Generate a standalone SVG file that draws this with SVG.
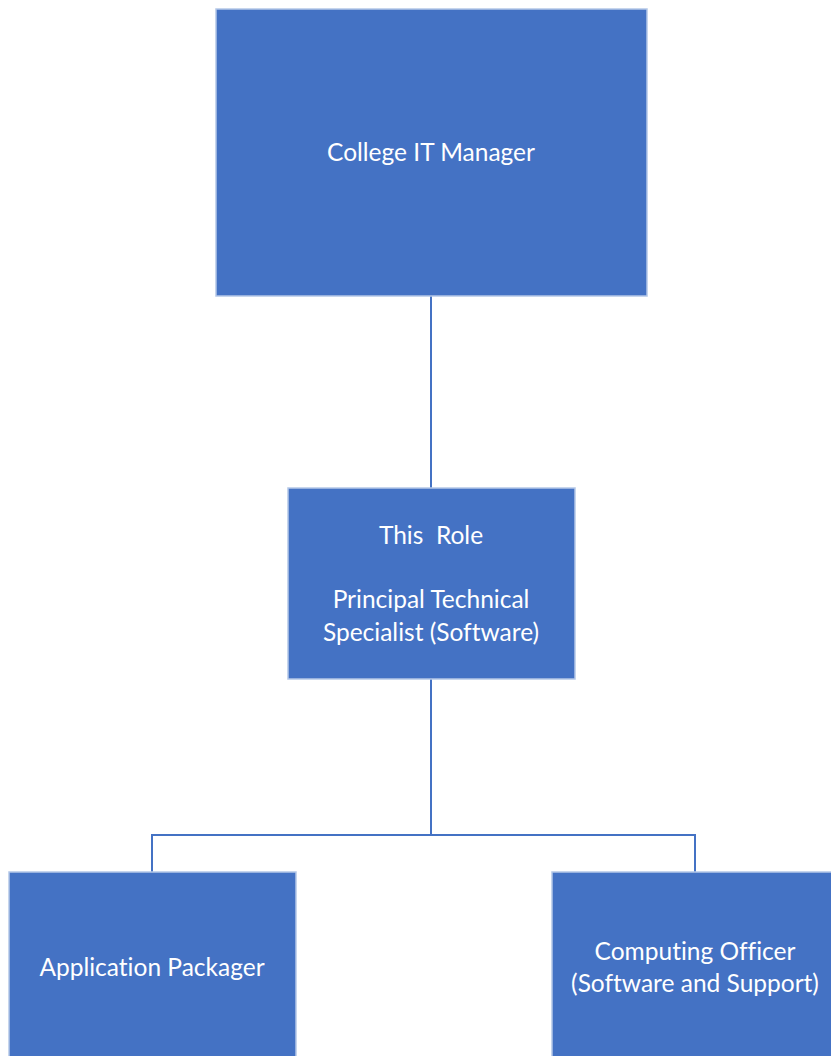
<svg xmlns="http://www.w3.org/2000/svg" width="831" height="1056" viewBox="0 0 831 1056">
  <style>
    .box { fill: #4472C4; stroke: #B4C7E7; stroke-width: 1.5; }
    .label { fill: #FFFFFF; font-family: Lato, "Open Sans", "Liberation Sans", sans-serif; font-size: 24.5px; text-anchor: middle; font-variant-ligatures: none; font-feature-settings: "liga" 0, "dlig" 0; }
    .link { fill: none; stroke: #4472C4; stroke-width: 2; }
  </style>
  <rect width="831" height="1056" fill="#FFFFFF"/>
  <g id="connectors">
    <line class="link" x1="431" y1="296" x2="431" y2="488"/>
    <polyline class="link" points="431,679 431,835"/>
    <polyline class="link" points="152,872 152,835 695,835 695,872"/>
  </g>
  <g id="college-it-manager">
    <rect class="box" x="216" y="9" width="431" height="287"/>
    <text class="label" x="431" y="161">College IT Manager</text>
  </g>
  <g id="this-role">
    <rect class="box" x="288" y="488" width="287" height="191"/>
    <text class="label" x="431" y="544" xml:space="preserve">This  Role</text>
    <text class="label" x="431" y="608">Principal Technical</text>
    <text class="label" x="431" y="641">Specialist (Software)</text>
  </g>
  <g id="application-packager">
    <rect class="box" x="9" y="872" width="287" height="200"/>
    <text class="label" x="152" y="976">Application Packager</text>
  </g>
  <g id="computing-officer">
    <rect class="box" x="552" y="872" width="300" height="200"/>
    <text class="label" x="695" y="960">Computing Officer</text>
    <text class="label" x="695" y="992">(Software and Support)</text>
  </g>
</svg>
